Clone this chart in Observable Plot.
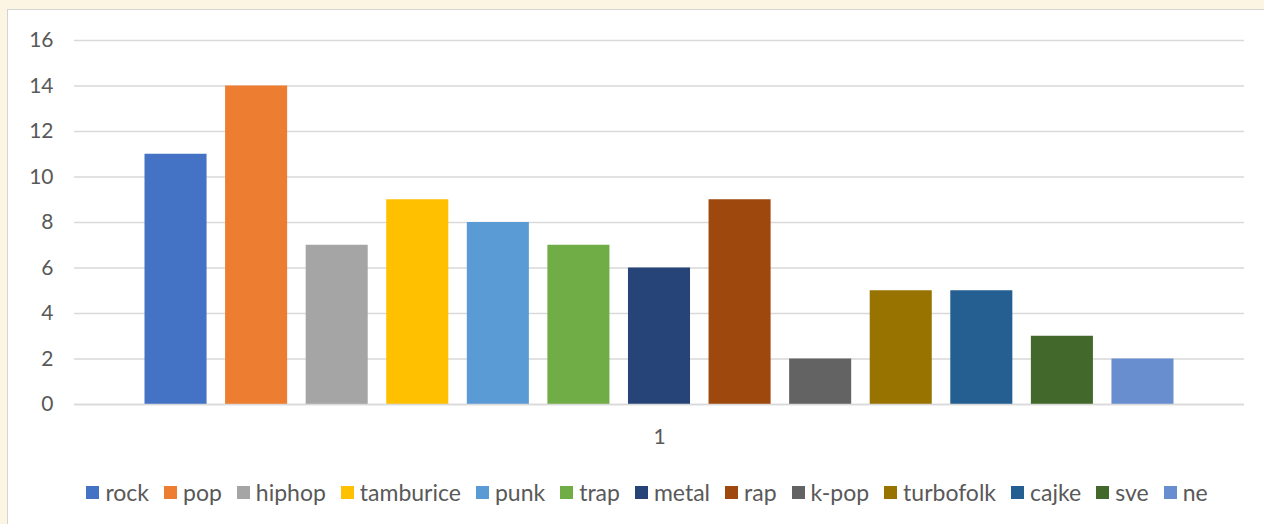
<!DOCTYPE html>
<html><head><meta charset="utf-8">
<script src="https://cdn.jsdelivr.net/npm/d3@7"></script>
<script src="https://cdn.jsdelivr.net/npm/@observablehq/plot@0.6"></script>
<style>
html,body{margin:0;padding:0;background:#fdf5e4;width:1264px;height:524px;overflow:hidden;font-family:Lato,"Open Sans",sans-serif;}
#panel{position:absolute;left:7px;top:9px;width:1270px;height:530px;background:#fff;border-left:1px solid #d4d4d4;border-top:1px solid #d4d4d4;}
#chart{position:absolute;left:0;top:0;}
#legend{position:absolute;left:11px;width:1256px;top:468px;display:flex;justify-content:center;gap:15px;font-size:23px;color:#595959;}
#legend .it{display:flex;align-items:center;gap:6px;}
#legend .sw{width:13px;height:13px;display:inline-block;}
</style></head>
<body>
<div id="panel"><div id="chart"></div><div id="legend"></div></div>
<script>
const genres = ["rock","pop","hiphop","tamburice","punk","trap","metal","rap","k-pop","turbofolk","cajke","sve","ne"];
const counts = [11,14,7,9,8,7,6,9,2,5,5,3,2];
const colors = ["#4472C4","#ED7D31","#A5A5A5","#FFC000","#5B9BD5","#70AD47","#264478","#9E480E","#636363","#997300","#255E91","#43682B","#698ED0"];
const category = "1";
const yTicks = [0,2,4,6,8,10,12,14,16];

const data = genres.map((g,i)=>({genre:g, value:counts[i], cat:category}));

const chart = Plot.plot({
  width: 1256, height: 450,
  marginLeft: 66, marginRight: 20, marginTop: 30, marginBottom: 56,
  style: {fontFamily: "Lato, 'Open Sans', sans-serif", fontSize: "21px", color: "#595959", background: "transparent"},
  fx: {domain: [category], paddingInner: 0, paddingOuter: 0, label: null, round: false},
  x: {domain: genres, paddingInner: 0.23, paddingOuter: 0.875, axis: null, round: false},
  y: {domain: [0,16], ticks: yTicks, label: null},
  color: {domain: genres, range: colors},
  marks: [
    Plot.gridY(yTicks, {stroke: "#d9d9d9", strokeOpacity: 1, strokeWidth: 1.5}),
    Plot.axisY(yTicks, {tickSize: 0, tickPadding: 21, label: null, fill: "#595959"}),
    Plot.axisFx({anchor: "bottom", tickSize: 0, tickPadding: 25, label: null, fill: "#595959"}),
    Plot.barY(data, {fx: "cat", x: "genre", y: "value", fill: "genre"}),
    Plot.ruleY([0], {stroke: "#d9d9d9", strokeWidth: 1.5})
  ]
});
document.getElementById("chart").appendChild(chart);

const leg = document.getElementById("legend");
genres.forEach((g,i)=>{
  const it = document.createElement("span"); it.className="it";
  const sw = document.createElement("span"); sw.className="sw"; sw.style.background=colors[i];
  const t = document.createElement("span"); t.textContent=g;
  it.appendChild(sw); it.appendChild(t); leg.appendChild(it);
});
</script>
</body></html>
